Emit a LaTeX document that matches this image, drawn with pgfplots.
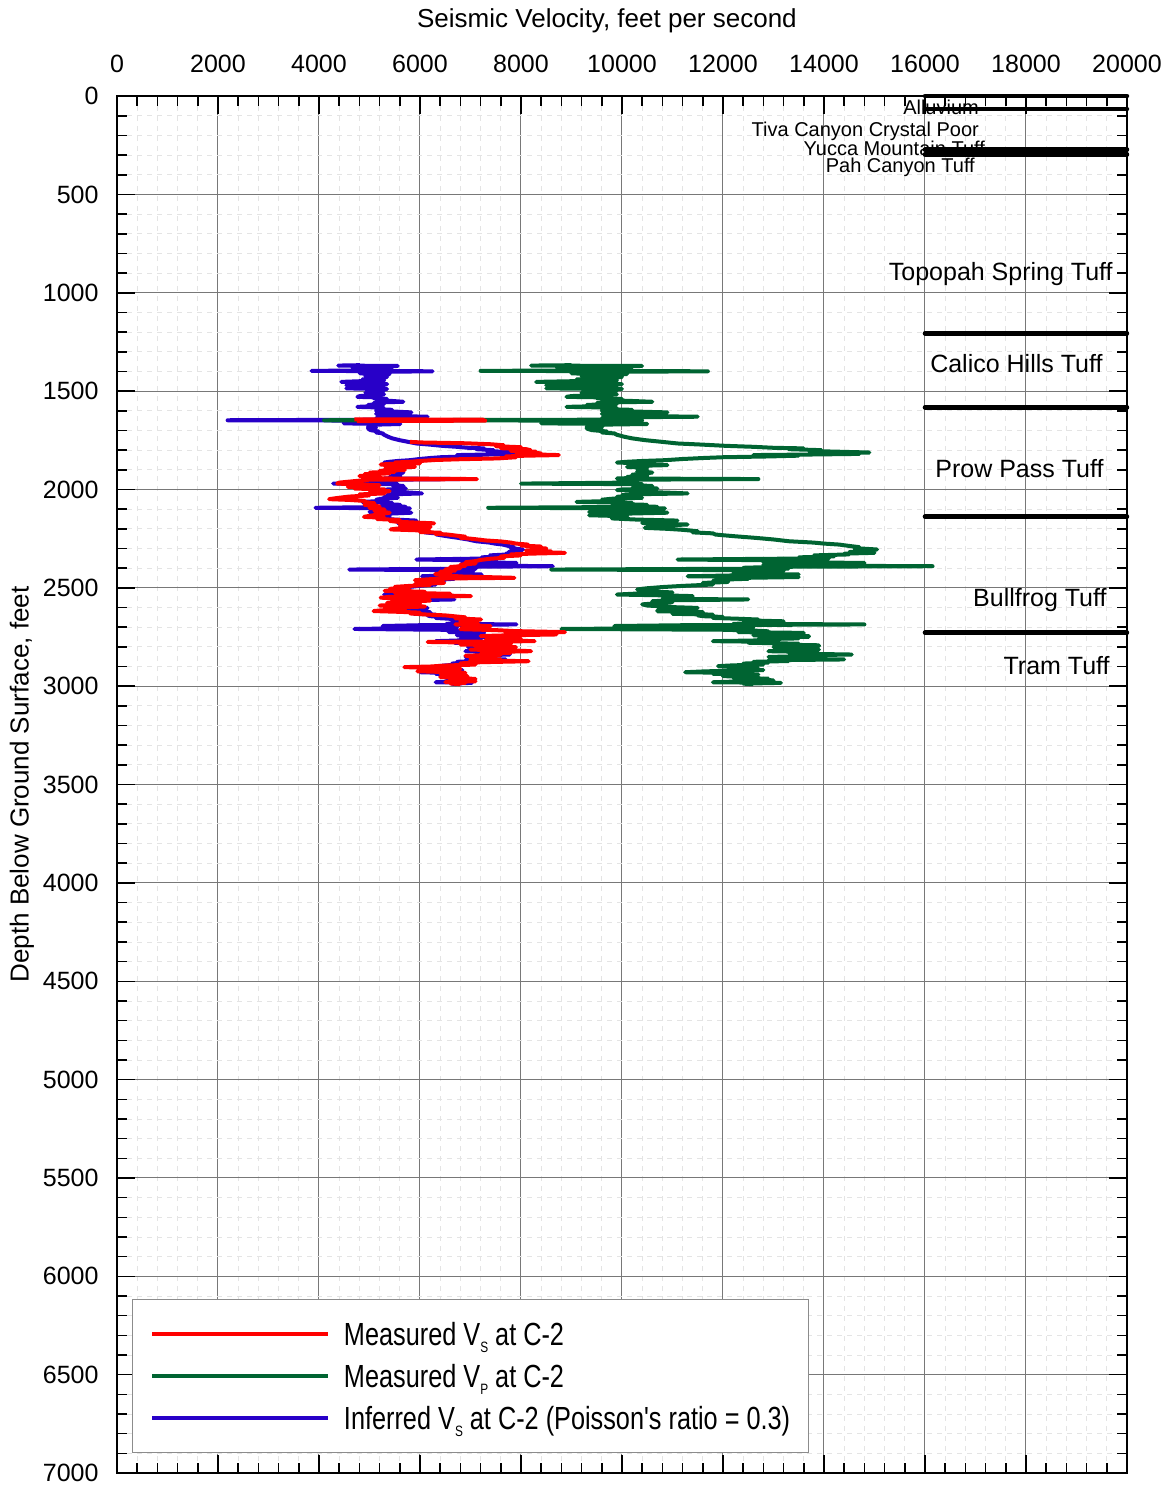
\documentclass[border=0pt]{standalone}
\usepackage{pgfplots}
\pgfplotsset{compat=1.18}
\usepackage{pgfplotstable}
\usepackage{fontspec}
\setmainfont{Liberation Sans}
\newfontfamily\legendfont[FakeStretch=0.79]{Liberation Sans}

\definecolor{vsred}{RGB}{255,0,0}
\definecolor{vpgreen}{RGB}{0,100,50}
\definecolor{vsblue}{RGB}{40,0,200}
\definecolor{majgrid}{RGB}{120,120,120}
\definecolor{mingrid}{RGB}{228,228,228}
\definecolor{legframe}{RGB}{140,140,140}

% small lowered subscript used in the legend
\newcommand{\sub}[1]{\raisebox{-7pt}{\fontsize{15}{15}\selectfont #1}}

% Borehole C-2: depth (ft), measured Vp (ft/s), inferred Vs for Poisson's ratio 0.3 (ft/s)
\pgfplotstableread[row sep=\\]{
d vp vsi\\
1368 9000 4810\\ 1370 8200 4380\\ 1372 10400 5560\\ 1375 9500 5080\\ 1377 8700 4650\\
1380 10200 5450\\ 1383 9300 4970\\ 1387 9800 5240\\ 1390 8800 4700\\ 1394 9900 5290\\
1397 7200 3850\\ 1399 11700 6250\\ 1402 9600 5130\\ 1405 9000 4810\\ 1408 9900 5290\\
1410 9000 4810\\ 1413 10100 5400\\ 1417 9400 5020\\ 1420 9800 5240\\ 1424 9200 4920\\
1428 10000 5350\\ 1432 9500 5080\\ 1436 9800 5240\\ 1440 9100 4860\\ 1444 9900 5290\\
1448 9300 4970\\ 1453 8300 4440\\ 1456 9900 5290\\ 1460 9400 5020\\ 1464 10000 5350\\
1468 9300 4970\\ 1470 8500 4540\\ 1473 9600 5130\\ 1477 9200 4920\\ 1481 9900 5290\\
1486 8500 4540\\ 1489 10000 5350\\ 1493 9500 5080\\ 1497 9900 5290\\ 1500 9400 5020\\
1504 9800 5240\\ 1508 9200 4920\\ 1512 9300 4970\\ 1516 9900 5290\\ 1520 9500 5080\\
1525 9000 4810\\ 1529 8900 4760\\ 1532 9700 5180\\ 1536 9500 5080\\ 1540 10000 5350\\
1545 9600 5130\\ 1550 10200 5450\\ 1554 10600 5670\\ 1557 9800 5240\\ 1561 9500 5080\\
1565 9900 5290\\ 1570 9300 4970\\ 1575 9700 5180\\ 1580 8900 4760\\ 1583 9700 5180\\
1587 9900 5290\\ 1591 9600 5130\\ 1595 10200 5450\\ 1597 9800 5240\\ 1600 9600 5130\\
1604 10300 5510\\ 1608 10900 5830\\ 1611 9900 5290\\ 1615 9600 5130\\ 1620 10200 5450\\
1625 9800 5240\\ 1630 11500 6150\\ 1633 10000 5350\\ 1637 9600 5130\\ 1641 10400 5560\\
1645 9900 5290\\ 1648 4100 2190\\ 1650 10400 5560\\ 1653 9800 5240\\ 1657 9600 5130\\
1660 10200 5450\\ 1664 8400 4490\\ 1667 10500 5610\\ 1670 9700 5180\\ 1675 9400 5020\\
1681 9300 4970\\ 1686 9600 5130\\ 1690 9300 4970\\ 1698 9400 5020\\ 1705 9700 5180\\
1710 9600 5130\\ 1715 9850 5260\\ 1722 9900 5290\\ 1732 10050 5370\\ 1740 10200 5450\\
1749 10450 5590\\ 1758 10800 5770\\ 1766 11100 5930\\ 1772 11600 6200\\ 1778 12050 6440\\
1783 12600 6730\\ 1788 13000 6950\\ 1791 13600 7270\\ 1795 13300 7110\\ 1800 13950 7460\\
1804 13700 7320\\ 1808 14300 7640\\ 1812 14900 7960\\ 1815 14400 7700\\ 1819 14700 7860\\
1822 13800 7380\\ 1825 12600 6730\\ 1828 13500 7220\\ 1832 12900 6900\\ 1836 12000 6410\\
1840 11600 6200\\ 1845 11200 5990\\ 1851 10850 5800\\ 1855 10400 5560\\ 1859 10100 5400\\
1863 9900 5290\\ 1867 10400 5560\\ 1871 10200 5450\\ 1876 10900 5830\\ 1880 10300 5510\\
1885 10100 5400\\ 1890 10500 5610\\ 1895 10300 5510\\ 1902 10500 5610\\ 1908 10300 5510\\
1914 10600 5670\\ 1919 10400 5560\\ 1925 10200 5450\\ 1930 10500 5610\\ 1936 10100 5400\\
1940 10400 5560\\ 1944 9900 5290\\ 1947 12700 6790\\ 1950 10300 5510\\ 1955 9950 5320\\
1960 10300 5510\\ 1965 10100 5400\\ 1970 8000 4280\\ 1973 10400 5560\\ 1978 10200 5450\\
1982 10600 5670\\ 1986 10500 5610\\ 1990 10300 5510\\ 1995 10700 5720\\ 2000 10000 5350\\
2003 9900 5290\\ 2007 10600 5670\\ 2012 10400 5560\\ 2016 10900 5830\\ 2020 11300 6040\\
2024 10300 5510\\ 2029 10000 5350\\ 2033 10300 5510\\ 2037 9900 5290\\ 2042 10400 5560\\
2047 9800 5240\\ 2052 9600 5130\\ 2057 10000 5350\\ 2063 9100 4860\\ 2068 10200 5450\\
2073 9800 5240\\ 2078 10500 5610\\ 2083 10100 5400\\ 2088 10700 5720\\ 2093 7350 3930\\
2096 10850 5800\\ 2100 10300 5510\\ 2104 10000 5350\\ 2110 10700 5720\\ 2114 9350 5000\\
2118 10900 5830\\ 2122 10200 5450\\ 2126 9600 5130\\ 2131 9350 5000\\ 2136 10100 5400\\
2140 9800 5240\\ 2147 9800 5240\\ 2153 10300 5510\\ 2158 11100 5930\\ 2162 10600 5670\\
2166 10700 5720\\ 2170 10400 5560\\ 2173 10600 5670\\ 2178 11300 6040\\ 2182 10900 5830\\
2186 10500 5610\\ 2190 10800 5770\\ 2195 10450 5590\\ 2200 10900 5830\\ 2205 11200 5990\\
2212 11500 6150\\ 2218 11400 6090\\ 2223 11800 6310\\ 2229 11850 6330\\ 2237 12200 6520\\
2246 12650 6760\\ 2254 13000 6950\\ 2263 13300 7110\\ 2270 13800 7380\\ 2275 14000 7480\\
2280 14300 7640\\ 2287 14500 7750\\ 2293 14700 7860\\ 2298 14600 7800\\ 2305 15050 8040\\
2309 14600 7800\\ 2314 14800 7910\\ 2318 14500 7750\\ 2322 15000 8020\\ 2326 14400 7700\\
2330 14500 7750\\ 2335 13800 7380\\ 2340 14200 7590\\ 2345 13500 7220\\ 2350 14100 7540\\
2356 11100 5930\\ 2360 13200 7060\\ 2365 14000 7480\\ 2370 12800 6840\\ 2373 14800 7910\\
2377 13400 7160\\ 2382 12800 6840\\ 2387 13600 7270\\ 2390 16150 8630\\ 2393 13100 7000\\
2398 12400 6630\\ 2402 13300 7110\\ 2407 8600 4600\\ 2410 12600 6730\\ 2414 13200 7060\\
2418 12200 6520\\ 2424 12900 6900\\ 2428 12200 6520\\ 2432 13500 7220\\ 2436 12400 6630\\
2441 11300 6040\\ 2445 13500 7220\\ 2450 12200 6520\\ 2454 12500 6680\\ 2458 12000 6410\\
2465 11800 6310\\ 2470 12100 6470\\ 2475 11600 6200\\ 2483 11800 6310\\ 2490 11200 5990\\
2496 10800 5770\\ 2502 10500 5610\\ 2508 10300 5510\\ 2513 10700 5720\\ 2518 10400 5560\\
2523 11000 5880\\ 2529 10300 5510\\ 2534 9900 5290\\ 2538 10800 5770\\ 2542 11400 6090\\
2547 10900 5830\\ 2552 11200 5990\\ 2556 10800 5770\\ 2559 12500 6680\\ 2563 11000 5880\\
2568 10600 5670\\ 2573 11000 5880\\ 2578 10700 5720\\ 2584 10400 5560\\ 2590 10500 5610\\
2594 10800 5770\\ 2598 11000 5880\\ 2602 11500 6150\\ 2606 10900 5830\\ 2610 11200 5990\\
2614 10700 5720\\ 2619 10700 5720\\ 2623 11600 6200\\ 2628 11300 6040\\ 2632 11000 5880\\
2636 11800 6310\\ 2640 11500 6150\\ 2644 11600 6200\\ 2648 12000 6410\\ 2653 11800 6310\\
2657 12300 6570\\ 2661 12700 6790\\ 2665 12400 6630\\ 2670 13200 7060\\ 2674 12500 6680\\
2678 13000 6950\\ 2683 12200 6520\\ 2686 14800 7910\\ 2690 11200 5990\\ 2694 9850 5260\\
2698 11400 6090\\ 2702 12600 6730\\ 2706 10600 5670\\ 2709 8800 4700\\ 2713 12000 6410\\
2717 12600 6730\\ 2721 12900 6900\\ 2725 12300 6570\\ 2729 13600 7270\\ 2733 12800 6840\\
2737 13400 7160\\ 2741 12600 6730\\ 2745 13700 7320\\ 2749 13700 7320\\ 2753 12900 6900\\
2757 13500 7220\\ 2761 12700 6790\\ 2766 13000 6950\\ 2771 11800 6310\\ 2775 13100 7000\\
2779 12500 6680\\ 2784 13500 7220\\ 2788 13000 6950\\ 2792 13900 7430\\ 2797 13900 7430\\
2801 13000 6950\\ 2806 13600 7270\\ 2810 13200 7060\\ 2814 13900 7430\\ 2818 13300 7110\\
2822 12900 6900\\ 2826 13800 7380\\ 2830 13300 7110\\ 2835 13600 7270\\ 2839 14550 7780\\
2843 13500 7220\\ 2847 13900 7430\\ 2851 12900 6900\\ 2855 13600 7270\\ 2860 13100 7000\\
2864 14400 7700\\ 2868 12900 6900\\ 2872 13300 7110\\ 2876 12600 6730\\ 2880 12900 6900\\
2885 12400 6630\\ 2890 12800 6840\\ 2894 12200 6520\\ 2898 11900 6360\\ 2902 12600 6730\\
2906 12100 6470\\ 2910 12700 6790\\ 2914 12200 6520\\ 2918 12800 6840\\ 2922 12000 6410\\
2925 11600 6200\\ 2929 11250 6010\\ 2933 12300 6570\\ 2937 11800 6310\\ 2941 12700 6790\\
2945 12100 6470\\ 2949 12000 6410\\ 2953 12700 6790\\ 2957 12200 6520\\ 2962 12900 6900\\
2966 12300 6570\\ 2970 13000 6950\\ 2975 12400 6630\\ 2980 11800 6310\\ 2983 13150 7030\\
2987 12400 6630\\ 2990 12600 6730\\
}\vptable

% Borehole C-2: depth (ft), measured Vs (ft/s); nan marks a gap in the log
\pgfplotstableread[row sep=\\]{
d vs\\
1643 4700\\ 1645 7250\\ 1648 5200\\ 1650 7290\\ 1652 4750\\ 1700 nan\\
1758 5800\\ 1761 6050\\ 1765 6900\\ 1770 7400\\ 1775 7660\\ 1780 7500\\ 1785 8000\\
1790 7600\\ 1795 8100\\ 1800 8190\\ 1804 7800\\ 1808 8300\\ 1812 7900\\ 1816 8400\\
1820 8000\\ 1825 8750\\ 1828 8100\\ 1832 7700\\ 1836 7900\\ 1842 7530\\ 1846 6800\\
1850 6300\\ 1855 6000\\ 1859 5810\\ 1863 5500\\ 1867 6000\\ 1870 5400\\ 1873 5220\\
1877 5800\\ 1881 5300\\ 1885 5900\\ 1889 5500\\ 1893 5600\\ 1897 5300\\ 1901 5700\\
1905 5200\\ 1910 5500\\ 1914 5000\\ 1918 5400\\ 1922 4900\\ 1927 5200\\ 1931 4800\\
1935 5100\\ 1940 4900\\ 1944 5400\\ 1947 7130\\ 1950 5000\\ 1955 4800\\ 1960 4600\\
1965 4400\\ 1970 4360\\ 1974 4800\\ 1978 5200\\ 1982 4700\\ 1986 4570\\ 1990 5100\\
1995 4700\\ 2000 5300\\ 2004 5000\\ 2008 5400\\ 2012 5290\\ 2016 5000\\ 2020 5300\\
2025 4800\\ 2030 5000\\ 2036 4600\\ 2042 4400\\ 2049 4200\\ 2053 4600\\ 2058 4900\\
2063 4890\\ 2070 5100\\ 2078 4900\\ 2086 5200\\ 2094 5000\\ 2102 5300\\ 2110 5100\\
2118 5400\\ 2126 5200\\ 2134 5000\\ 2139 4890\\ 2144 5300\\ 2150 5150\\ 2155 5600\\
2160 5400\\ 2164 5550\\ 2168 5900\\ 2172 6280\\ 2176 5800\\ 2180 5600\\ 2186 6000\\
2190 6210\\ 2195 5700\\ 2200 5500\\ 2203 5420\\ 2207 5900\\ 2212 6200\\ 2216 6000\\
2220 6410\\ 2225 6300\\ 2229 6550\\ 2234 6700\\ 2240 6900\\ 2245 6800\\ 2250 7000\\
2254 7140\\ 2259 7300\\ 2264 7600\\ 2270 7800\\ 2275 7900\\ 2280 8140\\ 2285 8000\\
2290 8400\\ 2295 8200\\ 2300 8500\\ 2305 8470\\ 2310 8100\\ 2315 8600\\ 2318 8300\\
2322 8870\\ 2326 8200\\ 2330 7800\\ 2335 8000\\ 2340 7600\\ 2347 7670\\ 2352 7400\\
2358 7200\\ 2364 7100\\ 2370 6900\\ 2376 7100\\ 2382 6800\\ 2388 6900\\ 2394 6600\\
2400 6800\\ 2406 6500\\ 2412 6700\\ 2418 6400\\ 2424 6600\\ 2430 6300\\ 2436 6500\\
2442 6800\\ 2449 7870\\ 2452 6600\\ 2456 6200\\ 2461 5900\\ 2466 6300\\ 2470 6000\\
2475 6480\\ 2480 5900\\ 2485 6200\\ 2490 5800\\ 2495 5500\\ 2500 5610\\ 2505 5400\\
2510 5800\\ 2515 5300\\ 2520 6100\\ 2525 5500\\ 2530 6600\\ 2535 5700\\ 2542 7010\\
2546 5400\\ 2550 5220\\ 2555 5800\\ 2560 5500\\ 2565 6200\\ 2570 5600\\ 2576 5350\\
2580 6000\\ 2585 5600\\ 2590 5200\\ 2595 6100\\ 2600 5500\\ 2605 5300\\ 2610 5700\\
2614 5250\\ 2618 5080\\ 2622 5600\\ 2626 6000\\ 2630 5800\\ 2636 6150\\ 2640 6500\\
2645 6700\\ 2650 6900\\ 2655 6700\\ 2661 7210\\ 2665 6900\\ 2670 6800\\ 2676 7100\\
2681 7150\\ 2686 6700\\ 2690 7000\\ 2695 7400\\ 2700 7000\\ 2705 7300\\ 2710 6800\\
2715 7500\\ 2720 7900\\ 2725 8870\\ 2729 7700\\ 2733 8400\\ 2737 8700\\ 2741 7800\\
2745 7200\\ 2750 7800\\ 2755 7500\\ 2760 8000\\ 2765 7300\\ 2771 8270\\ 2775 6150\\
2779 7200\\ 2784 7800\\ 2788 6800\\ 2792 7600\\ 2797 7100\\ 2801 7900\\ 2806 7300\\
2810 7700\\ 2814 7000\\ 2818 7800\\ 2822 8200\\ 2826 7400\\ 2830 7800\\ 2835 7200\\
2840 7600\\ 2845 6900\\ 2850 7200\\ 2855 7500\\ 2860 7000\\ 2864 7600\\ 2868 7000\\
2873 8150\\ 2878 7200\\ 2884 6800\\ 2890 7100\\ 2895 6500\\ 2900 6200\\ 2903 5690\\
2907 6300\\ 2912 6800\\ 2916 6200\\ 2920 6600\\ 2924 5950\\ 2928 6500\\ 2932 6900\\
2936 6400\\ 2940 6800\\ 2944 6500\\ 2949 6940\\ 2953 6400\\ 2958 6700\\ 2963 7100\\
2967 6600\\ 2972 6900\\ 2975 7100\\ 2979 6500\\ 2983 6900\\ 2986 6600\\ 2990 6800\\
}\vstable

\begin{document}
\begin{tikzpicture}
\begin{axis}[
  at={(0pt,0pt)}, anchor=south west,
  scale only axis, width=1010pt, height=1377pt,
  xmin=0, xmax=20000, ymin=0, ymax=7000, y dir=reverse,
  xtick distance=2000, ytick distance=500,
  scaled x ticks=false, scaled y ticks=false,
  minor x tick num=4, minor y tick num=4,
  xticklabel pos=right, yticklabel pos=left,
  tick align=inside,
  major tick length=18pt, minor tick length=10pt,
  every tick/.style={black, line width=1.5pt},
  axis line style={black, line width=2pt},
  grid=both,
  major grid style={majgrid, line width=1pt},
  minor grid style={mingrid, line width=0.8pt, dash pattern=on 5pt off 5pt},
  /pgf/number format/assume math mode=true,
  /pgf/number format/1000 sep={},
  tick label style={font=\fontsize{25}{30}\selectfont},
  xticklabel style={yshift=20pt},
  yticklabel style={xshift=-15pt},
  clip=false,
  reverse legend,
  legend cell align=left,
  legend image code/.code={\draw[#1, line width=3.5pt, line cap=butt] (0pt,0pt) -- (176pt,0pt);},
  legend style={
    at={(0.01485,0.01452)}, anchor=south west,
    draw=legframe, line width=1pt, fill=white,
    inner xsep=18pt, inner ysep=23pt,
    row sep=19pt, column sep=14pt,
    font=\legendfont\fontsize{32}{36}\selectfont,
    nodes={inner sep=0pt, text height=23pt, text depth=0pt},
    cells={anchor=west},
  },
]

% inferred shear-wave velocity
\addplot[vsblue, line width=4pt, line join=round] table[x=vsi, y=d] {\vptable};
\addlegendentry{Inferred V\sub{S} at C-2 (Poisson's ratio = 0.3)}

% measured compressional-wave velocity
\addplot[vpgreen, line width=4pt, line join=round] table[x=vp, y=d] {\vptable};
\addlegendentry{Measured V\sub{P} at C-2}

% measured shear-wave velocity
\addplot[vsred, line width=4pt, line join=round, unbounded coords=jump] table[x=vs, y=d] {\vstable};
\addlegendentry{Measured V\sub{S} at C-2}

% formation names
\node[anchor=east, inner sep=0pt, font=\fontsize{20}{24}\selectfont] at (axis cs:17070,58) {Alluvium};
\node[anchor=east, inner sep=0pt, font=\fontsize{20}{24}\selectfont] at (axis cs:17070,178) {Tiva Canyon Crystal Poor};
\node[anchor=east, inner sep=0pt, font=\fontsize{20}{24}\selectfont] at (axis cs:17190,264) {Yucca Mountain Tuff};
\node[anchor=east, inner sep=0pt, font=\fontsize{20}{24}\selectfont] at (axis cs:16990,364) {Pah Canyon Tuff};
\node[anchor=east, inner sep=0pt, font=\fontsize{25}{30}\selectfont] at (axis cs:19720,904) {Topopah Spring Tuff};
\node[anchor=east, inner sep=0pt, font=\fontsize{25}{30}\selectfont] at (axis cs:19520,1361) {Calico Hills Tuff};
\node[anchor=east, inner sep=0pt, font=\fontsize{25}{30}\selectfont] at (axis cs:19540,1896) {Prow Pass Tuff};
\node[anchor=east, inner sep=0pt, font=\fontsize{25}{30}\selectfont] at (axis cs:19600,2564) {Bullfrog Tuff};
\node[anchor=east, inner sep=0pt, font=\fontsize{25}{30}\selectfont] at (axis cs:19660,2895) {Tram Tuff};

% formation contacts
\pgfplotsinvokeforeach{0,66,272,297,1206,1583,2138,2728}{
  \addplot[black, line width=4.5pt, line cap=round, forget plot] coordinates {(16000,#1) (20000,#1)};
}

% axis titles
\node[anchor=base, font=\fontsize{26}{31}\selectfont] at ([yshift=69pt]axis description cs:0.4851,1) {Seismic Velocity, feet per second};
\node[rotate=90, font=\fontsize{26}{31}\selectfont] at ([xshift=-95pt]axis description cs:0,0.5) {Depth Below Ground Surface, feet};
\end{axis}
\pgfresetboundingbox
\path[use as bounding box] (-117pt,-15pt) rectangle (1056pt,1473pt);
\end{tikzpicture}
\end{document}
